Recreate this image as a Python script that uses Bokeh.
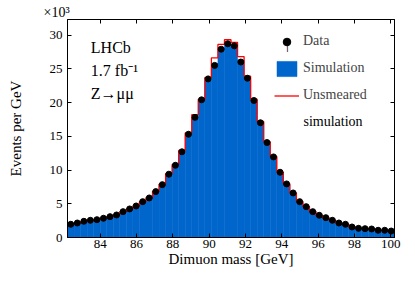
import numpy as np
from bokeh.plotting import figure
from bokeh.models import (LinearAxis, FixedTicker, Range1d, Label, Legend,
                          LegendItem)
from bokeh.embed import file_html
from bokeh.resources import INLINE

# ---- data (events per GeV, in units of 10^3) ----
bin_low = 82.2
bin_width = 0.36
data_k = [1.96, 2.15, 2.40, 2.55, 2.64, 2.85, 3.09, 3.34, 3.83, 4.23,
          4.67, 5.31, 5.86, 6.80, 7.83, 9.38, 10.7, 12.7, 15.3, 17.8,
          20.4, 23.5, 25.5, 27.9, 28.7, 28.4, 26.0, 23.6, 20.3, 17.0,
          14.07, 11.94, 9.67, 7.94, 6.60, 5.31, 4.57, 3.83, 3.29, 2.94,
          2.55, 2.15, 1.96, 1.56, 1.36, 1.31, 1.26, 1.07, 1.07, 0.96]
sim_k = [1.90, 2.10, 2.33, 2.50, 2.62, 2.83, 3.05, 3.30, 3.75, 4.15,
         4.60, 5.20, 5.80, 6.70, 7.75, 9.25, 10.6, 12.6, 15.1, 17.7,
         20.3, 23.3, 25.8, 28.1, 28.9, 28.5, 26.3, 23.5, 20.2, 17.0,
         14.0, 11.9, 9.60, 7.90, 6.55, 5.30, 4.55, 3.80, 3.25, 2.90,
         2.52, 2.15, 1.95, 1.58, 1.38, 1.30, 1.24, 1.08, 1.05, 0.95]
unsmeared_k = [1.92, 2.12, 2.36, 2.52, 2.65, 2.86, 3.10, 3.36, 3.82, 4.22,
               4.68, 5.30, 5.90, 6.85, 7.90, 9.45, 10.8, 12.9, 15.5, 18.2,
               20.5, 23.7, 26.6, 28.6, 29.3, 28.9, 26.8, 23.9, 20.5, 17.2,
               14.2, 12.0, 9.70, 7.95, 6.60, 5.32, 4.57, 3.82, 3.27, 2.92,
               2.54, 2.16, 1.96, 1.59, 1.38, 1.31, 1.25, 1.08, 1.06, 0.96]
x_ticks = [84, 86, 88, 90, 92, 94, 96, 98, 100]
y_ticks = [0, 5, 10, 15, 20, 25, 30]

edges = bin_low + bin_width * np.arange(len(data_k) + 1)
centers = 0.5 * (edges[:-1] + edges[1:])

FONT = "Liberation Serif"
BLUE = "#0066CC"
RED = "#FF0000"

p = figure(width=414, height=280, output_backend="svg", toolbar_location=None,
           x_range=Range1d(82.2, 100.2), y_range=Range1d(0, 32.3),
           min_border_left=67, min_border_right=20, min_border_top=19,
           min_border_bottom=43, title="\u00d710\u00b3",
           x_axis_label="Dimuon mass [GeV]", y_axis_label="Events per GeV")
p.grid.visible = False
p.outline_line_color = "black"
p.background_fill_color = "white"
p.border_fill_color = "white"
p.title.align = "left"
p.title.offset = -24
p.title.standoff = 0
p.title.text_font = FONT
p.title.text_font_size = "14px"
p.title.text_font_style = "normal"
p.title.text_color = "black"


def style(ax, ticks, show_labels=True):
    ax.ticker = FixedTicker(ticks=ticks)
    ax.major_tick_in = 4
    ax.major_tick_out = 0
    ax.minor_tick_line_color = None
    ax.axis_line_color = "black"
    ax.major_tick_line_color = "black"
    ax.major_label_text_font = FONT
    ax.axis_label_text_font = FONT
    ax.axis_label_text_font_size = "15px"
    ax.axis_label_text_font_style = "normal"
    ax.axis_label_text_color = "black"
    if show_labels:
        ax.major_label_text_font_size = "13px"
        ax.major_label_text_color = "black"
    else:
        ax.major_label_text_font_size = "1px"
        ax.major_label_text_color = None
        ax.major_label_standoff = 0


style(p.xaxis[0], x_ticks)
style(p.yaxis[0], y_ticks)
p.xaxis[0].major_label_standoff = 2
p.xaxis[0].axis_label_standoff = 0
p.yaxis[0].major_label_standoff = 5
p.yaxis[0].axis_label_standoff = 23

top_ax = LinearAxis()
style(top_ax, x_ticks, False)
p.add_layout(top_ax, "above")
right_ax = LinearAxis()
style(right_ax, y_ticks, False)
p.add_layout(right_ax, "right")

bars = p.quad(left=edges[:-1], right=edges[1:], bottom=0, top=sim_k,
              fill_color=BLUE, line_color=BLUE, line_width=0.5)
red = p.step(x=edges, y=np.append(unsmeared_k, unsmeared_k[-1]), mode="after",
             line_color=RED, line_width=1.3)
pts = p.scatter(x=centers, y=data_k, marker="circle", size=6,
                fill_color="black", line_color="black")

legend = Legend(items=[LegendItem(label="Data", renderers=[pts]),
                       LegendItem(label="Simulation", renderers=[bars]),
                       LegendItem(label="Unsmeared", renderers=[red])],
                location=(207, 132), glyph_width=25, glyph_height=19,
                label_height=20, spacing=7, padding=0, margin=0,
                label_standoff=4, label_text_font=FONT,
                label_text_font_size="14px", background_fill_alpha=0,
                border_line_color=None)
p.add_layout(legend)

# second line of the last legend entry
p.add_layout(Label(x=236, y=116, x_units="screen", y_units="screen",
                   text="simulation", text_font=FONT, text_font_size="14px",
                   text_baseline="middle", text_color="black"))

# vertical error bar of the legend's data symbol
p.add_layout(Label(x=219.8, y=193.3, x_units="screen", y_units="screen",
                   text="|", text_font=FONT, text_font_size="14px",
                   text_align="center", text_baseline="middle",
                   text_color="black"))

for txt, yy in [("LHCb", 190), ("1.7 fb\u207b\u00b9", 167), ("Z\u2192\u03bc\u03bc", 144)]:
    p.add_layout(Label(x=23.3, y=yy, x_units="screen", y_units="screen", text=txt,
                       text_font=FONT, text_font_size="16px",
                       text_baseline="middle", text_color="black"))

open("out.html", "w").write(file_html(p, INLINE))
